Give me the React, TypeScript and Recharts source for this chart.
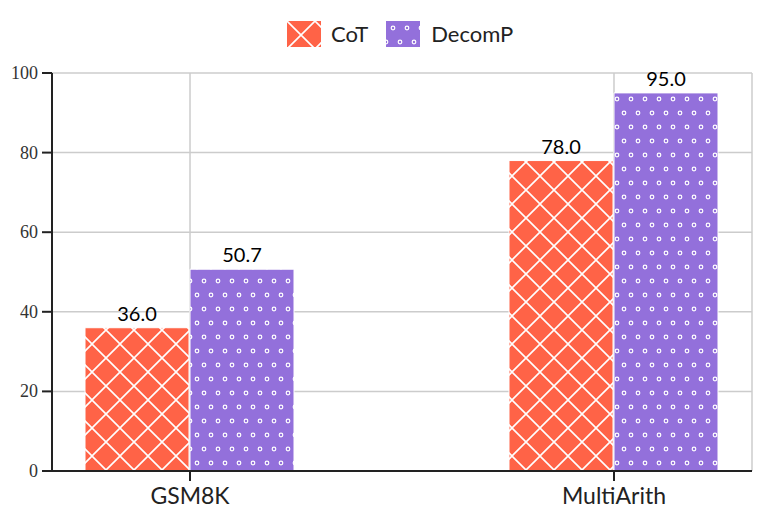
import React from 'react';
import { BarChart, Bar, XAxis, YAxis, CartesianGrid, Legend, LabelList } from 'recharts';

const categories = ['GSM8K', 'MultiArith'];
const cotValues = [36.0, 78.0];
const decompValues = [50.7, 95.0];
const yTicks = [0, 20, 40, 60, 80, 100];

const data = categories.map((name, i) => ({
  x: i,
  name,
  CoT: cotValues[i],
  DecomP: decompValues[i],
}));

const sans = 'Lato, "Noto Sans", sans-serif';
const serif = '"Liberation Serif", "DejaVu Serif", serif';

const Swatch = ({ fill }: { fill: string }) => (
  <svg width={34} height={26} style={{ display: 'block' }}>
    <rect x={0} y={0} width={34} height={26} fill={fill} />
  </svg>
);

const LegendContent = () => (
  <div style={{ display: 'flex', alignItems: 'center', paddingLeft: 279, paddingTop: 12, fontFamily: sans, fontSize: 22, color: '#222' }}>
    <Swatch fill="url(#hatchCot)" />
    <span style={{ marginLeft: 10, marginRight: 18 }}>CoT</span>
    <Swatch fill="url(#dotsDecomp)" />
    <span style={{ marginLeft: 11 }}>DecomP</span>
  </div>
);

const YTick = (props: any) => {
  const { x, y, payload } = props;
  return (
    <text x={x} y={y} dy={6} textAnchor="end" fill="#333" fontSize={18} fontFamily={serif} style={{ fontFamily: serif }}>
      {payload.value}
    </text>
  );
};

export default function App() {
  return (
    <BarChart
      width={753}
      height={510}
      data={data}
      margin={{ top: 0, right: 9, bottom: 7, left: 0 }}
      barGap={1}
    >
      <defs>
        <pattern id="hatchCot" patternUnits="userSpaceOnUse" width={28} height={28}>
          <rect width={28} height={28} fill="#FF6347" />
          <path d="M0,0 L28,28 M28,0 L0,28 M-2,2 L2,-2 M26,30 L30,26" stroke="#fff" strokeWidth={1.6} />
        </pattern>
        <pattern id="dotsDecomp" patternUnits="userSpaceOnUse" width={14} height={28}>
          <rect width={14} height={28} fill="#9370DB" />
          <circle cx={7} cy={7} r={1.8} fill="#9370DB" stroke="#fff" strokeWidth={1.2} />
          <circle cx={0} cy={21} r={1.8} fill="#9370DB" stroke="#fff" strokeWidth={1.2} />
          <circle cx={14} cy={21} r={1.8} fill="#9370DB" stroke="#fff" strokeWidth={1.2} />
        </pattern>
      </defs>
      <CartesianGrid stroke="#cccccc" strokeWidth={1.5} />
      <XAxis
        dataKey="x"
        type="number"
        domain={[-0.3255, 1.3255]}
        ticks={[0, 1]}
        tickFormatter={(v: number) => categories[v] ?? ''}
        height={40}
        tickSize={10}
        tickMargin={7}
        stroke="#222"
        strokeWidth={2}
        tick={{ fill: '#222', fontSize: 23, fontFamily: sans }}
      />
      <YAxis
        domain={[0, 100]}
        ticks={yTicks}
        width={44}
        tickSize={10}
        tickMargin={4}
        stroke="#222"
        strokeWidth={2}
        tick={<YTick />}
      />
      <Legend verticalAlign="top" content={LegendContent} wrapperStyle={{ top: 0, left: 0, width: 753, height: 65 }} />
      <Bar dataKey="CoT" fill="url(#hatchCot)" stroke="#fff" strokeWidth={1} barSize={104} isAnimationActive={false}>
        <LabelList dataKey="CoT" position="top" offset={7} formatter={(v: number) => v.toFixed(1)} fill="#000" fontSize={20} fontFamily={sans} />
      </Bar>
      <Bar dataKey="DecomP" fill="url(#dotsDecomp)" stroke="#fff" strokeWidth={1} barSize={104} isAnimationActive={false}>
        <LabelList dataKey="DecomP" position="top" offset={7} formatter={(v: number) => v.toFixed(1)} fill="#000" fontSize={20} fontFamily={sans} />
      </Bar>
    </BarChart>
  );
}
